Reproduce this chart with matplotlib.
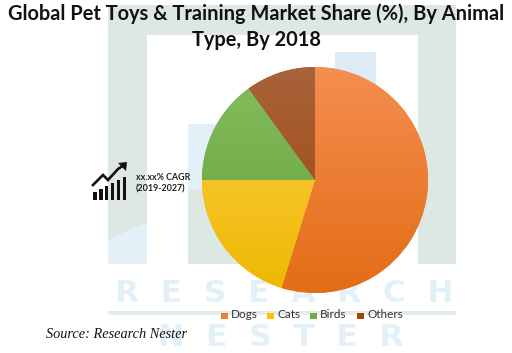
import numpy as np
import matplotlib
matplotlib.use('Agg')
import matplotlib.pyplot as plt
from matplotlib.colors import LinearSegmentedColormap
from matplotlib.patches import Rectangle, Polygon

W, H = 512, 353

categories = ['Dogs', 'Cats', 'Birds', 'Others']
shares = [54.8, 20.2, 15.0, 10.0]
top_colors = ['#F58E4F', '#FFCF50', '#86BE5E', '#A9623A']
bottom_colors = ['#E36C16', '#EDB800', '#62A03A', '#9C4708']
legend_colors = ['#ED7D31', '#FFC000', '#70AD47', '#9E480E']
cagr_bars = [8, 11, 14, 17, 20, 23]

plt.rcParams['font.family'] = ['Lato', 'DejaVu Sans']

fig = plt.figure(figsize=(W / 100, H / 100), dpi=100, facecolor='white')

# watermark behind everything, in pixel coordinates
bg = fig.add_axes([0, 0, 1, 1])
bg.set_xlim(0, W)
bg.set_ylim(H, 0)
bg.axis('off')
frame = '#DDE8E3'
wm_blue = '#E4F0F7'
bg.add_patch(Rectangle((108, 5), 348, 30, color=frame, lw=0))
bg.add_patch(Rectangle((108, 5), 39, 259, color=frame, lw=0))
bg.add_patch(Rectangle((418, 5), 38, 259, color=frame, lw=0))
bg.add_patch(Rectangle((335, 52), 41, 60, color='#DCEBF5', lw=0))
bg.add_patch(Rectangle((188, 124), 100, 72, color=wm_blue, lw=0))
bg.add_patch(Rectangle((188, 190), 100, 74, color=frame, lw=0))
bg.add_patch(Polygon([(108, 264), (108, 240), (147, 222), (147, 264)], color=wm_blue, lw=0))
bg.add_patch(Rectangle((108, 311), 348, 4, color='#E4EEE9', lw=0))
bg.text(284, 294, 'R  E  S  E  A  R  C  H', color=wm_blue, fontsize=22.5, fontweight='bold',
        ha='center', va='center', family='DejaVu Sans')
bg.text(281, 337, 'N  E  S  T  E  R', color=wm_blue, fontsize=22.5, fontweight='bold',
        ha='center', va='center', family='DejaVu Sans')

# pie, centre (315, 180) radius 113 px
ax = fig.add_axes([(315 - 113) / W, 1 - (180 + 113) / H, 226 / W, 226 / H])
wedges, _ = ax.pie(shares, startangle=90, counterclock=False, radius=1,
                   colors=legend_colors, wedgeprops={'linewidth': 0})
for wedge, c0, c1 in zip(wedges, top_colors, bottom_colors):
    cmap = LinearSegmentedColormap.from_list('w', [c0, c1])
    grad = np.linspace(0, 1, 256).reshape(-1, 1)
    im = ax.imshow(grad, extent=(-1, 1, -1, 1), origin='upper', cmap=cmap,
                   aspect='auto', zorder=2)
    im.set_clip_path(wedge)
ax.set_xlim(-1, 1)
ax.set_ylim(-1, 1)

top = fig.add_axes([0, 0, 1, 1])
top.set_xlim(0, W)
top.set_ylim(H, 0)
top.axis('off')
top.patch.set_alpha(0)

# title
top.text(256.5, 14, 'Global Pet Toys & Training Market Share (%), By Animal',
         fontsize=14.4, fontweight='bold', ha='center', va='center', color='#111111')
top.text(256.5, 40, 'Type, By 2018', fontsize=14.4, fontweight='bold',
         ha='center', va='center', color='#111111')

# CAGR icon
for i, h in enumerate(cagr_bars):
    top.bar(95 + i * 5.9, h, width=3.2, bottom=200 - h, color='#111111', lw=0)
top.plot([93, 103, 108, 118, 124], [185, 175, 180, 169, 165], color='#111111', lw=1.9,
         solid_joinstyle='miter')
top.add_patch(Polygon([(118, 163), (127, 162), (126, 171)], color='#111111', lw=0))
top.text(136, 178, 'xx.xx% CAGR', fontsize=6.4, fontweight='bold', va='center', color='#222222')
top.text(136, 189, '(2019-2027)', fontsize=6.4, fontweight='bold', va='center', color='#222222')

# legend
legend_x = [221, 267, 310, 357]
for x, c, name in zip(legend_x, legend_colors, categories):
    top.add_patch(Rectangle((x, 312.5), 6.5, 6.5, color=c, lw=0))
    top.text(x + 10, 315, name, fontsize=8.5, va='center', color='#333333')

top.text(46, 335, 'Source: Research Nester', fontsize=10.3, style='italic',
         family='Liberation Serif', va='center', color='#111111')

fig.savefig('out.png', dpi=100)
